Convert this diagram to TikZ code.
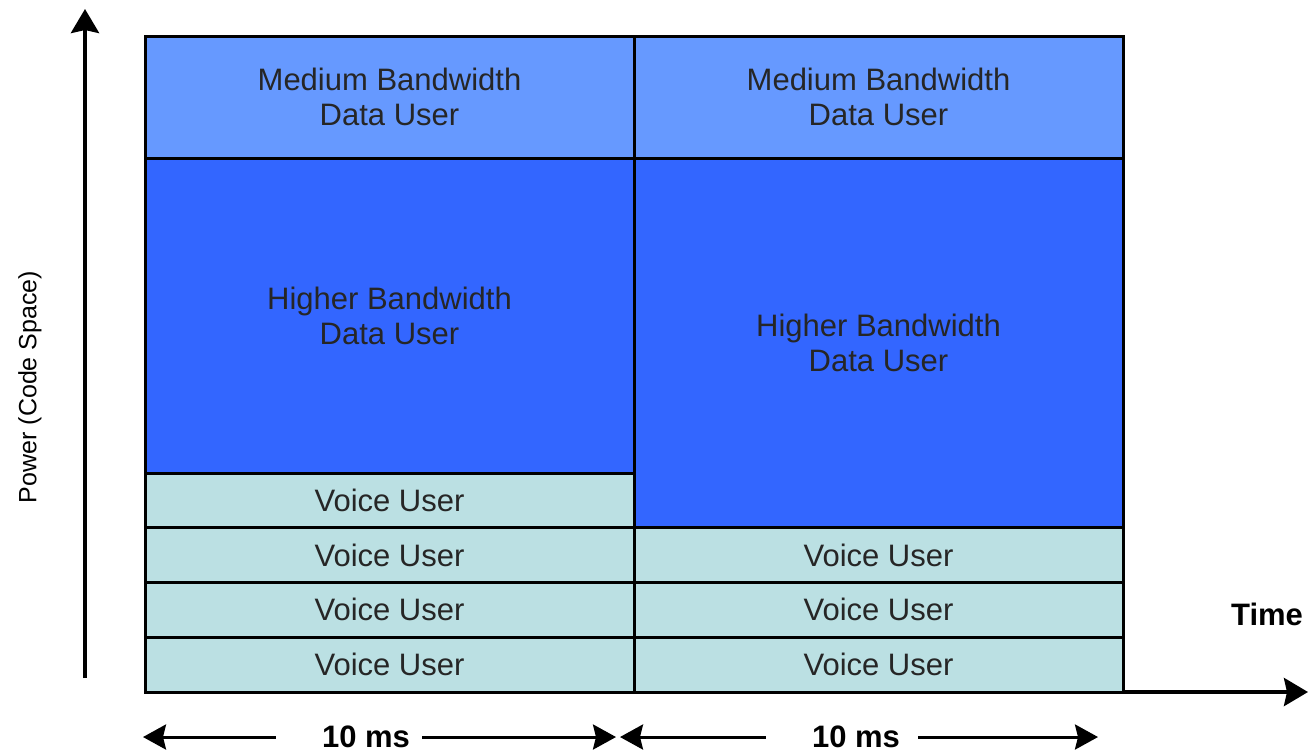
\documentclass[tikz,border=0pt]{standalone}
\usepackage{fontspec}
\setmainfont{Liberation Sans}
\usepackage{xcolor}
\usetikzlibrary{arrows.meta}
\definecolor{medblue}{HTML}{6699FF}
\definecolor{hiblue}{HTML}{3366FF}
\definecolor{voicec}{HTML}{BBE0E3}
\tikzset{cell/.style={draw=black,line width=1.5pt,inner sep=0,outer sep=0,anchor=north west,minimum width=244.5pt,
  align=center,text=black!85,font=\fontsize{15.5}{17.5}\selectfont},
 med/.style={cell,fill=medblue,minimum height=61pt},
 hi/.style={cell,fill=hiblue},
 voice/.style={cell,fill=voicec,minimum height=27.375pt},
 axis/.style={line width=2pt,-{Stealth[length=12pt,width=14pt,inset=1.5pt]}},
 dim/.style={line width=1.5pt,-{Stealth[length=11.5pt,width=12.5pt,inset=1.5pt]}},
 lbl/.style={font=\fontsize{15.5}{17.5}\selectfont\bfseries,inner xsep=6pt,inner ysep=0pt}}
\begin{document}
\begin{tikzpicture}[x=0.5pt,y=-0.5pt]
\useasboundingbox (0,0) rectangle (1309,752);
% slots
\node[med] (med1) at (145,36){Medium Bandwidth\\Data User};
\node[med] (med2) at (634,36){Medium Bandwidth\\Data User};
\node[hi,minimum height=157.5pt] (hi1) at (145,158){Higher Bandwidth\\Data User};
\node[hi,minimum height=185pt] (hi2) at (634,158){Higher Bandwidth\\Data User};
\foreach \i in {0,...,3}{\node[voice] (vl\i) at (145,{473+\i*54.75}){Voice User};}
\foreach \i in {1,...,3}{\node[voice] (vr\i) at (634,{473+\i*54.75}){Voice User};}
% axes
\coordinate (yb) at (85,678);\coordinate (yt) at (85,9);
\draw[axis] (yb)--(yt);
\coordinate (xe) at (1308,692);
\draw[axis] (vr3.south east)--(xe);
\node[font=\fontsize{15.5}{17.5}\selectfont\bfseries] (time) at (1267,614){Time};
\node[rotate=90,font=\fontsize{12.5}{14}\selectfont] (pow) at (30,387){Power (Code Space)};
% frame lengths
\node[lbl] (t1) at (366,737){10 ms};\node[lbl] (t2) at (856,737){10 ms};
\coordinate (a1) at (143,737);\coordinate (b1) at (616,737);
\coordinate (a2) at (620,737);\coordinate (b2) at (1098,737);
\draw[dim,shorten <=17pt] (t1)--(a1);\draw[dim] (t1)--(b1);
\draw[dim,shorten <=17pt] (t2)--(a2);\draw[dim,shorten <=3pt] (t2)--(b2);
\end{tikzpicture}
\end{document}
